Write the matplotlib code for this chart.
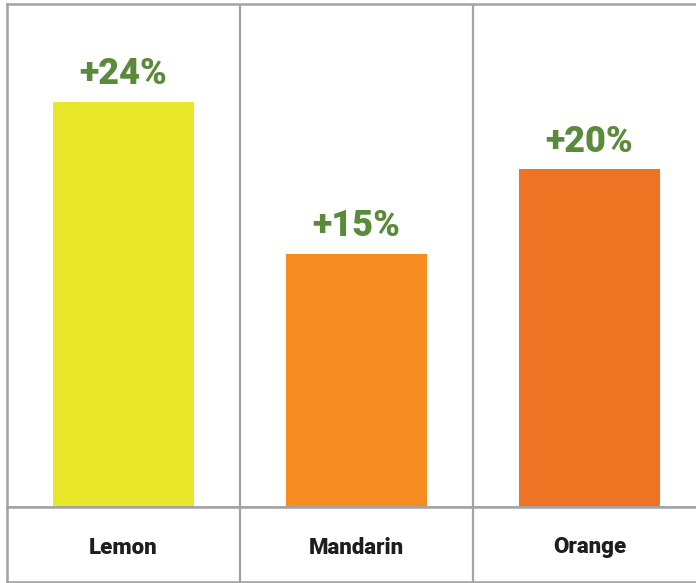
import matplotlib.pyplot as plt

# data
fruits = ['Lemon', 'Mandarin', 'Orange']
growth = [24, 15, 20]
labels = ['+24%', '+15%', '+20%']
bar_colors = ['#e9e72a', '#f68c1f', '#ee7424']

W, H = 696, 583
grid_color = '#a3a3a7'
green = '#5a8a3a'

plt.rcParams['font.family'] = ['Roboto', 'DejaVu Sans']

fig = plt.figure(figsize=(W / 100, H / 100), dpi=100)

# column width 233 px, grid starts at x=7
left = 7 / W
width = 3 * 233 / W

# main bar area: y from 4 px to 507 px
ax = fig.add_axes([left, (H - 507) / H, width, (507 - 4) / H])
ax.bar(range(len(fruits)), growth, width=141 / 233, color=bar_colors, zorder=1)
for i, (v, lab) in enumerate(zip(growth, labels)):
    ax.annotate(lab, (i, v), xytext=(0, 7), textcoords='offset points',
                ha='center', va='bottom', fontsize=26, fontweight='heavy',
                color=green)
ax.set_xlim(-0.5, 2.5)
ax.set_ylim(0, 29.8)
for x in [0.5, 1.5]:
    ax.axvline(x, color=grid_color, lw=1.6, zorder=3)
for s in ax.spines.values():
    s.set_color(grid_color)
    s.set_linewidth(1.8)
    s.set_zorder(3)
ax.set_xticks([])
ax.set_yticks([])

# category row: y from 507 px to 582 px
ax2 = fig.add_axes([left, (H - 582) / H, width, (582 - 507) / H])
ax2.set_xlim(-0.5, 2.5)
ax2.set_ylim(0, 1)
for i, name in enumerate(fruits):
    ax2.text(i, 0.46, name, ha='center', va='center', fontsize=16,
             fontweight='heavy', color='#1e1e20')
for x in [0.5, 1.5]:
    ax2.axvline(x, color=grid_color, lw=1.6)
for s in ax2.spines.values():
    s.set_color(grid_color)
    s.set_linewidth(1.8)
ax2.set_xticks([])
ax2.set_yticks([])

fig.savefig('out.png', dpi=100)
